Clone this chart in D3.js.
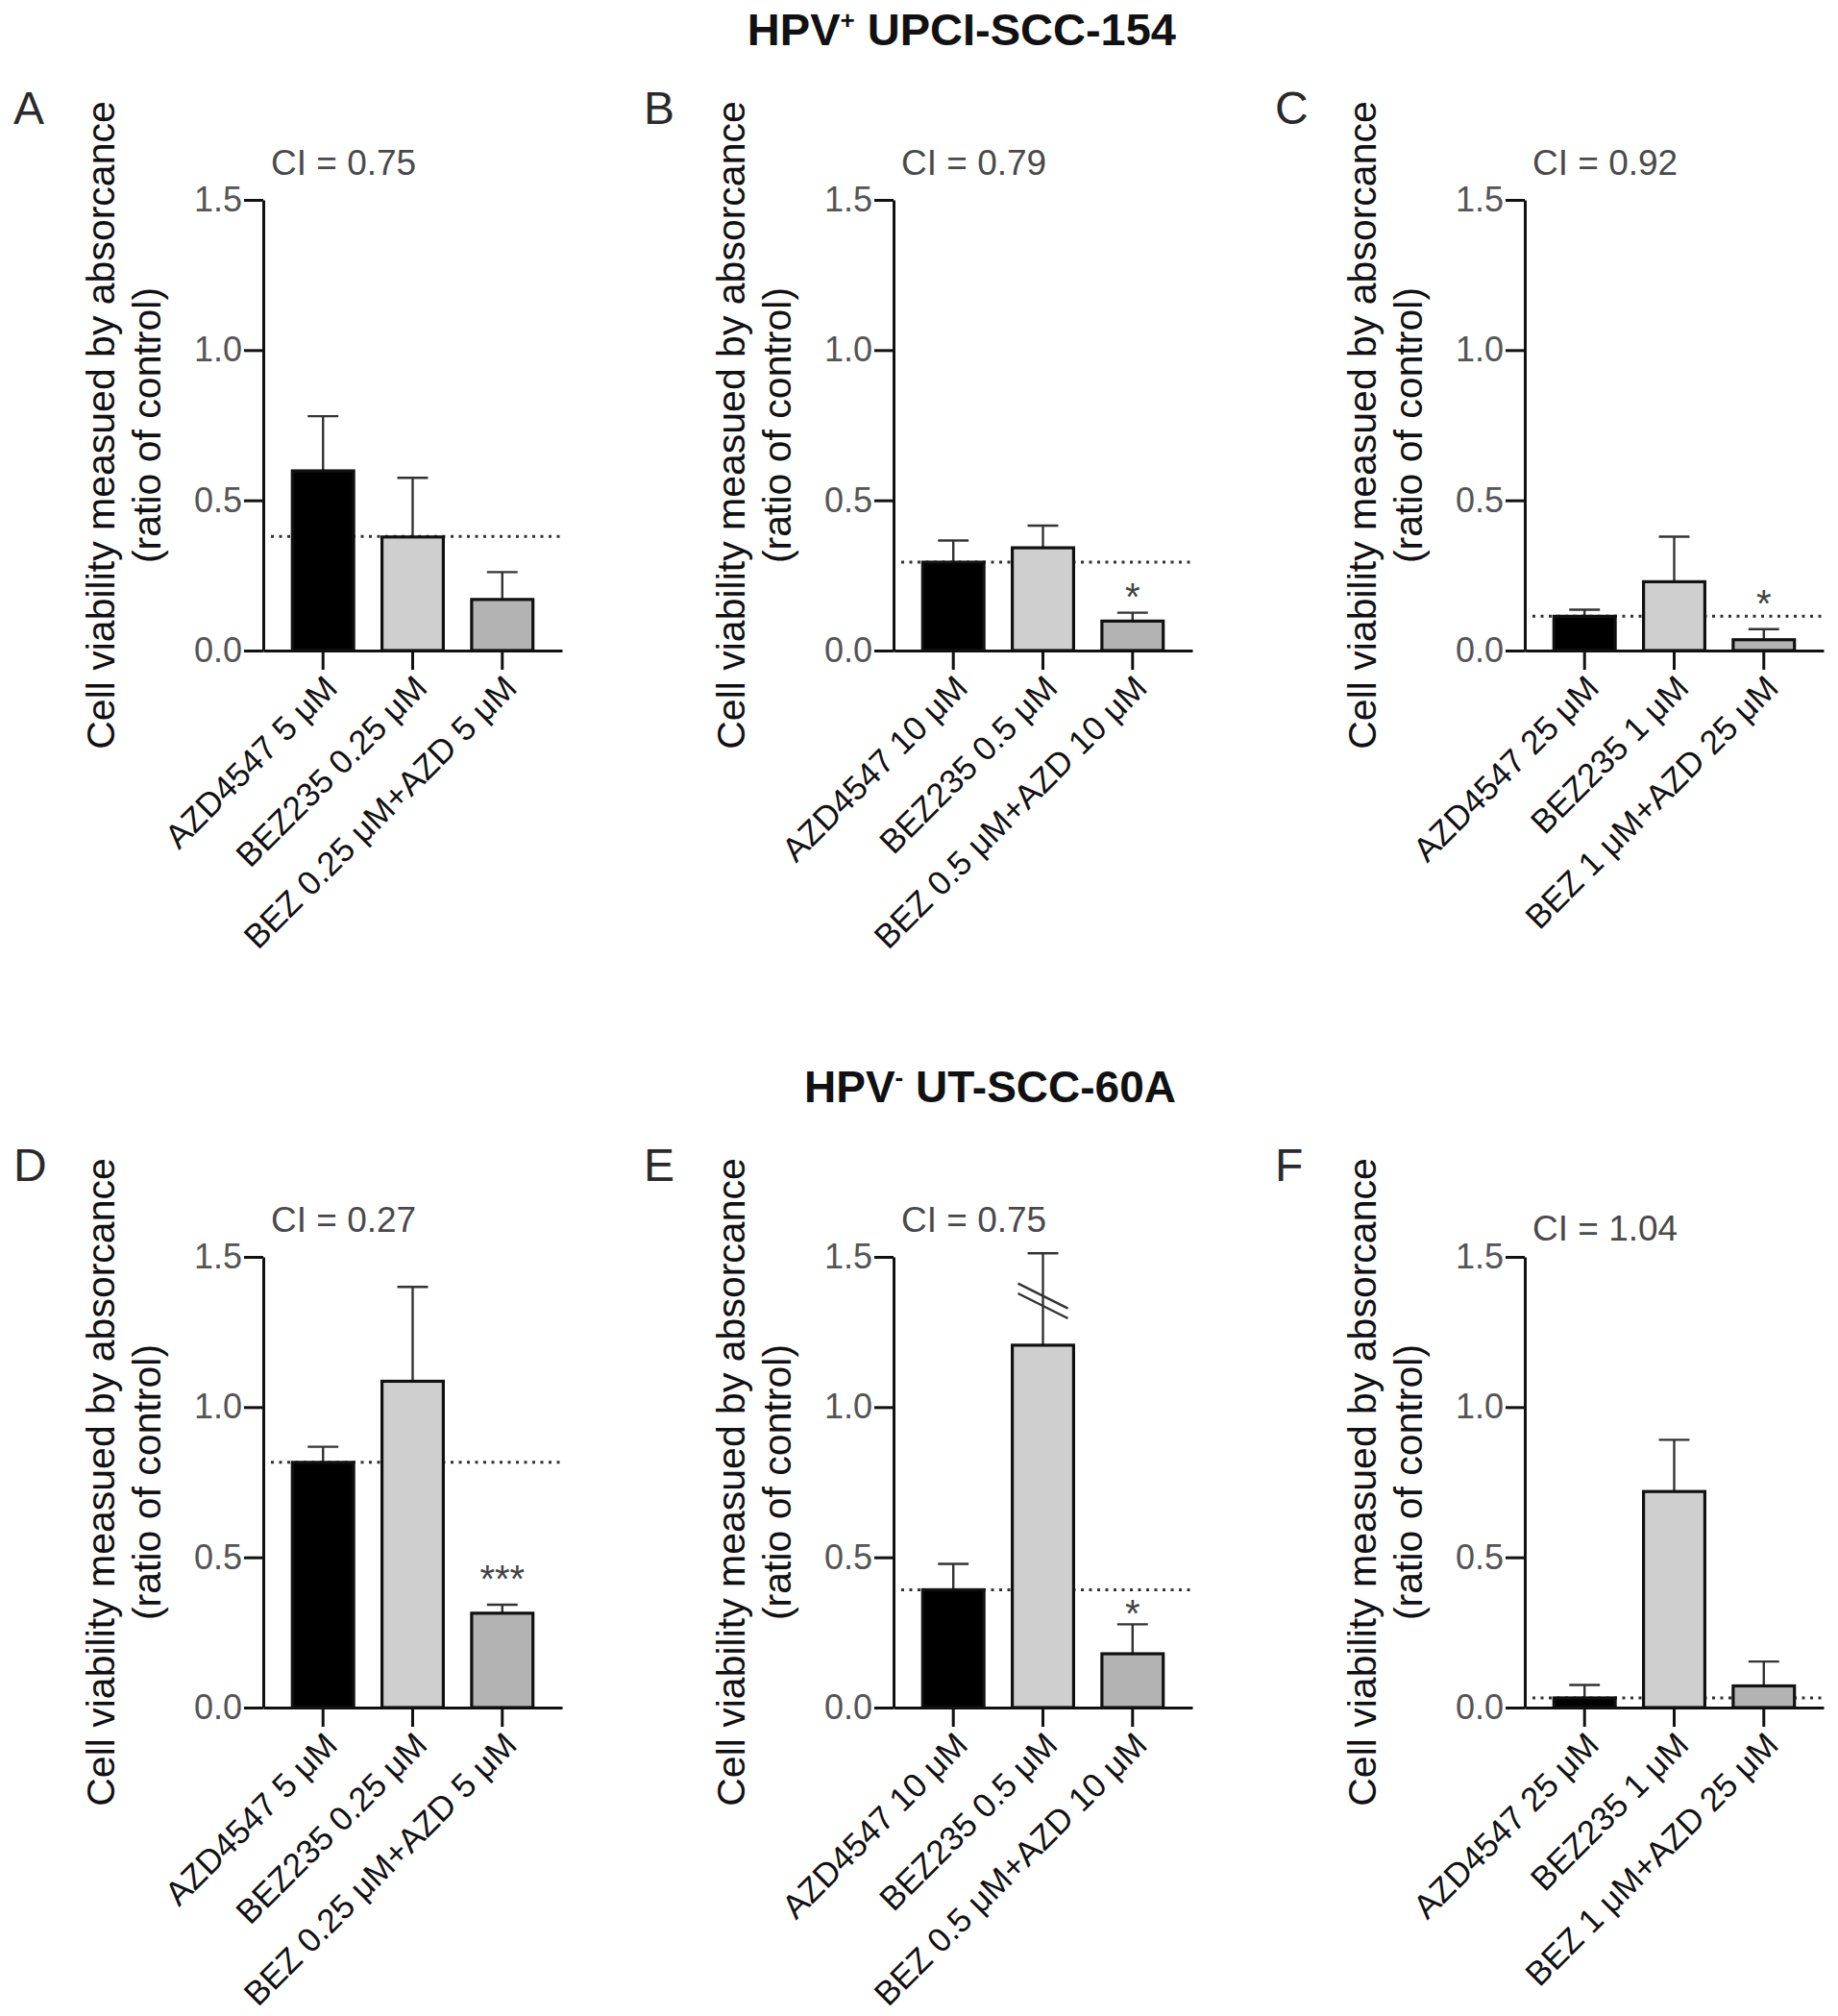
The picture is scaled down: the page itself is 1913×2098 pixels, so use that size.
<!DOCTYPE html>
<html>
<head>
<meta charset="utf-8">
<script src="https://cdn.jsdelivr.net/npm/d3@7"></script>
<style>
  html, body { margin: 0; padding: 0; background: #fff; }
  svg { display: block; }
  text { font-family: "Liberation Sans", Arial, Helvetica, sans-serif; }
</style>
</head>
<body>
<svg id="chart"></svg>
<script>
// ---- data ----
const panelLetters = ['A', 'B', 'C', 'D', 'E', 'F'];
const ciLabels = ['CI = 0.75', 'CI = 0.79', 'CI = 0.92', 'CI = 0.27', 'CI = 0.75', 'CI = 1.04'];

const categoriesByColumn = [
  ['AZD4547 5 μM', 'BEZ235 0.25 μM', 'BEZ 0.25 μM+AZD 5 μM'],
  ['AZD4547 10 μM', 'BEZ235 0.5 μM', 'BEZ 0.5 μM+AZD 10 μM'],
  ['AZD4547 25 μM', 'BEZ235 1 μM', 'BEZ 1 μM+AZD 25 μM'],
];

// mean viability per bar (A..F)
const meanValues = [
  [0.598, 0.378, 0.170],
  [0.294, 0.342, 0.098],
  [0.114, 0.229, 0.036],
  [0.816, 1.086, 0.314],
  [0.392, 1.206, 0.179],
  [0.032, 0.719, 0.072],
];
// top of the error bar (mean + SD)
const errorTop = [
  [0.780, 0.575, 0.261],
  [0.366, 0.416, 0.126],
  [0.136, 0.379, 0.071],
  [0.868, 1.400, 0.342],
  [0.478, 1.512, 0.277],
  [0.075, 0.891, 0.153],
];
// dotted line: expected additive effect
const expectedValues = [0.380, 0.294, 0.114, 0.816, 0.392, 0.032];

// significance marks: [bar index, text, value where the mark sits]
const significance = [null, [2, '*', 0.21], [2, '*', 0.19], [2, '***', 0.46], [2, '*', 0.345], null];
// axis break drawn across an error bar: [bar index, value of each slash]
const axisBreaks = [null, null, null, null, [1, [1.370, 1.337]], null];

const yTicks = [0, 0.5, 1.0, 1.5];
const yTitleLines = ['Cell viability measued by absorcance', '(ratio of control)'];
const rowTitles = [['HPV', '+', ' UPCI-SCC-154'], ['HPV', '-', ' UT-SCC-60A']];

// ---- layout ----
const width = 1913, height = 2098;
const axisX = [274, 930, 1587];
const rowTop = [208, 1308];
const plotW = 311, plotH = 469;
const barFills = ['#000000', '#cfcfcf', '#b3b3b3'];
const ciShift = [0, 0, 0, 0, 0, 9];

const svg = d3.select('#chart').attr('width', width).attr('height', height);
svg.append('rect').attr('width', width).attr('height', height).attr('fill', '#fff');

// row titles
rowTitles.forEach((t, r) => {
  const txt = svg.append('text')
    .attr('x', 1224)
    .attr('y', 47 + r * 1100)
    .attr('text-anchor', 'end')
    .attr('font-size', r === 0 ? 47 : 46)
    .attr('font-weight', 'bold')
    .attr('fill', '#111');
  txt.append('tspan').text(t[0]);
  txt.append('tspan').attr('font-size', 26).attr('dy', -17).text(t[1]);
  txt.append('tspan').attr('dy', 17).text(t[2]);
});

const y = d3.scaleLinear().domain([0, 1.5]).range([plotH, 0]);

panelLetters.forEach((letter, i) => {
  const col = i % 3, row = Math.floor(i / 3);
  const g = svg.append('g').attr('transform', `translate(${axisX[col]},${rowTop[row]})`);
  const cats = categoriesByColumn[col];

  const x = d3.scaleBand().domain(cats).range([0, plotW])
    .paddingInner(0.316).paddingOuter(0.325);

  // panel letter
  g.append('text')
    .attr('x', -260).attr('y', -79)
    .attr('font-size', 48).attr('fill', '#2a2a2a')
    .text(letter);

  // CI label
  g.append('text')
    .attr('x', 8).attr('y', -26 + ciShift[i])
    .attr('font-size', 37).attr('fill', '#4a4a4a')
    .text(ciLabels[i]);

  // y title
  const yt = g.append('text')
    .attr('transform', `translate(0,${plotH / 2}) rotate(-90)`)
    .attr('text-anchor', 'middle')
    .attr('font-size', 41).attr('fill', '#111');
  yTitleLines.forEach((line, k) => {
    yt.append('tspan').attr('x', 0).attr('y', k === 0 ? -155 : -107).text(line);
  });

  // dotted expected line (behind bars)
  g.append('line')
    .attr('x1', 8).attr('x2', plotW)
    .attr('y1', y(expectedValues[i])).attr('y2', y(expectedValues[i]))
    .attr('stroke', '#333').attr('stroke-width', 3)
    .attr('stroke-dasharray', '3,5.5');

  const rows = cats.map((c, k) => ({ c, k, v: meanValues[i][k], e: errorTop[i][k] }));

  // error bars
  const eb = g.selectAll('.err').data(rows).enter().append('g').attr('class', 'err');
  eb.append('line')
    .attr('x1', d => x(d.c) + x.bandwidth() / 2).attr('x2', d => x(d.c) + x.bandwidth() / 2)
    .attr('y1', d => y(d.v)).attr('y2', d => y(d.e))
    .attr('stroke', '#333').attr('stroke-width', 2.4);
  eb.append('line')
    .attr('x1', d => x(d.c) + x.bandwidth() / 4).attr('x2', d => x(d.c) + x.bandwidth() * 3 / 4)
    .attr('y1', d => y(d.e)).attr('y2', d => y(d.e))
    .attr('stroke', '#333').attr('stroke-width', 2.4);

  // bars
  g.selectAll('.bar').data(rows).enter().append('rect')
    .attr('class', 'bar')
    .attr('x', d => x(d.c))
    .attr('width', x.bandwidth())
    .attr('y', d => y(d.v))
    .attr('height', d => y(0) - y(d.v))
    .attr('fill', d => barFills[d.k])
    .attr('stroke', '#111').attr('stroke-width', 3.2);

  // axis break slashes
  if (axisBreaks[i]) {
    const [bi, vals] = axisBreaks[i];
    const cx = x(cats[bi]) + x.bandwidth() / 2;
    vals.forEach(v => {
      g.append('line')
        .attr('x1', cx - 26).attr('x2', cx + 26)
        .attr('y1', y(v) - 13).attr('y2', y(v) + 13)
        .attr('stroke', '#333').attr('stroke-width', 2.4);
    });
  }

  // significance marks
  if (significance[i]) {
    const [bi, mark, v] = significance[i];
    g.append('text')
      .attr('x', x(cats[bi]) + x.bandwidth() / 2)
      .attr('y', y(v) + 24)
      .attr('text-anchor', 'middle')
      .attr('font-size', 40).attr('fill', '#444')
      .text(mark);
  }

  // y axis
  const ya = g.append('g')
    .call(d3.axisLeft(y).tickValues(yTicks).tickFormat(d3.format('.1f'))
      .tickSize(20).tickSizeOuter(0).tickPadding(2));
  ya.select('.domain').attr('stroke', '#111').attr('stroke-width', 3);
  ya.selectAll('.tick line').attr('stroke', '#111').attr('stroke-width', 3);
  ya.selectAll('.tick text')
    .attr('font-family', '"Liberation Sans", Arial, sans-serif')
    .attr('font-size', 36).attr('fill', '#555');

  // x axis
  const xa = g.append('g')
    .attr('transform', `translate(0,${plotH})`)
    .call(d3.axisBottom(x).tickSize(20).tickSizeOuter(0).tickPadding(0));
  xa.select('.domain').attr('stroke', '#111').attr('stroke-width', 3);
  xa.selectAll('.tick line').attr('stroke', '#111').attr('stroke-width', 3);
  xa.selectAll('.tick text')
    .attr('font-family', '"Liberation Sans", Arial, sans-serif')
    .attr('font-size', 35).attr('fill', '#111')
    .attr('text-anchor', 'end')
    .attr('x', 0).attr('y', 0).attr('dy', 0)
    .attr('transform', 'translate(17,41) rotate(-45)');
});
</script>
</body>
</html>
